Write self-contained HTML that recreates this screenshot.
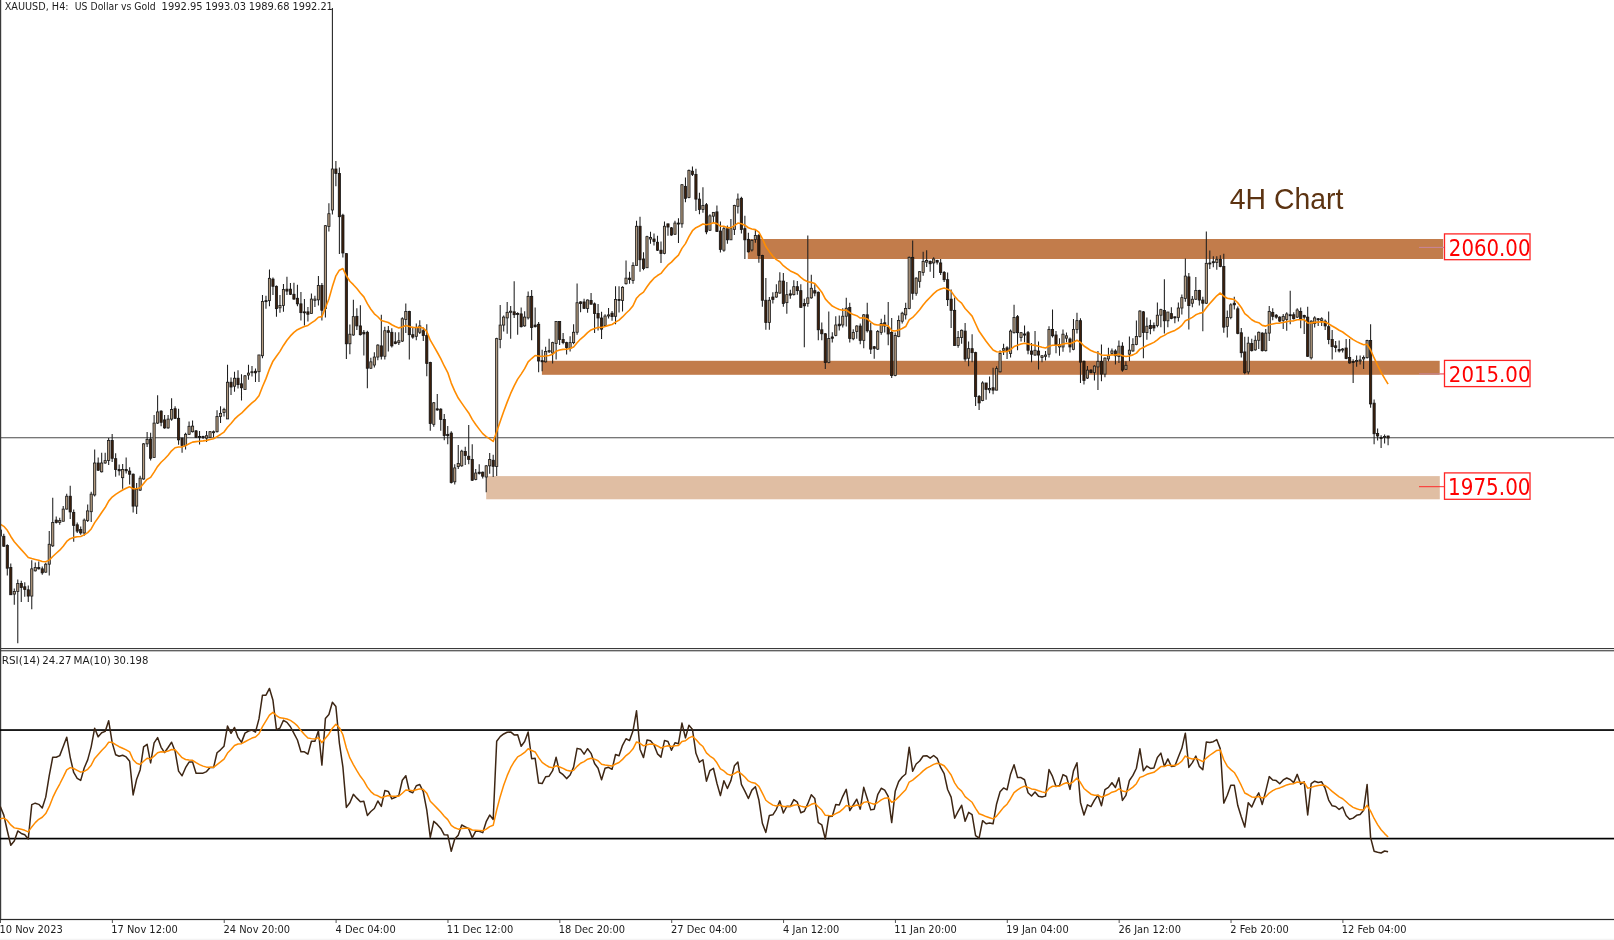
<!DOCTYPE html>
<html><head><meta charset="utf-8"><title>XAUUSD H4</title>
<style>html,body{margin:0;padding:0;background:#fff;}body{width:1614px;height:940px;overflow:hidden;position:relative;}</style>
</head><body>
<svg width="1614" height="940" viewBox="0 0 1614 940" style="position:absolute;left:0;top:0;will-change:transform">
<rect x="0" y="0" width="1614" height="940" fill="#ffffff"/>
<rect x="0" y="938.7" width="1614" height="1.3" fill="#f4f4f4"/>
<rect x="747.8" y="239" width="695.4" height="20" fill="#c27c4b"/>
<rect x="541.9" y="360.8" width="897.8" height="14" fill="#c27c4b"/>
<rect x="486.2" y="476.1" width="953.6" height="23.2" fill="#e0bea3"/>
<line x1="0" y1="437.7" x2="1614" y2="437.7" stroke="#4a4a4a" stroke-width="1.15"/>
<path d="M0.3 528V540M3.8 533.64V546.66M7.29 544.26V575.48M10.79 563.53V594.75M14.28 588.5V604.71M17.78 579.47V643.24M21.27 580.8V602.06M24.77 582.13V596.74M28.27 585.45V602.06M31.76 560.21V609.36M35.26 562.47V571.5M38.75 561.54V569.51M42.25 566.45V574.82M45.74 562.86V572.83M49.24 530.98V575.48M52.74 497.87V547.01M56.23 516.59V523.61M59.73 517.76V524.78M63.22 506.06V521.27M66.72 493.66V509.57M70.21 485.7V518.93M73.71 509.57V541.87M77.21 522.44V532.97M80.7 526.42V534.84M84.2 518.46V535.78M87.69 504.52V522.08M91.19 491.75V522.08M94.68 449.44V496.54M98.18 457.43V471M101.68 452.64V472.59M105.17 452.64V463.81M108.67 438V464.9M112.16 434.1V462.1M115.66 453.2V476.7M119.15 464.6V475.6M122.65 463.9V488.8M126.15 457.6V473.5M129.64 467.3V484.6M133.14 473.39V512.5M136.63 482.97V514.1M140.13 475.79V490.95M143.62 443.06V479.78M147.12 431.88V447.05M150.62 432.68V460.62M154.11 415.12V457.43M157.61 395.17V423.9M161.1 410.33V426.3M164.6 415.12V428.69M168.09 415.12V428.69M171.59 398.36V420.71M175.09 406.34V419.11M178.58 408.74V444.66M182.08 437.47V452.64M185.57 432.68V449.44M189.07 421.51V435.08M192.56 420.53V432.5M196.06 430.11V438.09M199.55 430.91V444.48M203.05 435.7V438.89M206.55 430.91V442.08M210.04 430.91V438.09M213.54 430.59V437.29M217.03 410.15V432.5M220.53 406.16V422.92M224.02 407.76V416.54M227.52 364.66V418.93M231.02 377.43V394.99M234.51 371.84V391.79M238.01 370.24V388.6M241.5 374.23V400.57M245 375.03V389.4M248.49 364.66V379.82M251.99 366.12V376.49M255.49 368.51V382.08M258.98 354.94V382.08M262.48 295.08V358.14M265.97 295.87V308.65M269.47 269.53V306.25M272.96 277.52V295.08M276.46 285.5V316.63M279.96 295.08V312.64M283.45 283.9V311.84M286.95 276.72V295.08M290.44 283.1V295.08M293.94 282.78V299.87M297.43 284.7V306.25M300.93 291.88V320.62M304.43 299.07V325.41M307.92 307.05V321.42M311.42 293.48V313.44M314.91 295.87V307.05M318.41 275.92V305.45M321.9 283.1V320.62M325.4 225V317.4M328.9 203.3V231.6M332.39 8V214.5M335.89 160.9V186.2M339.38 167.6V254M342.88 213.7V257.6M346.37 253.2V359M349.87 324.61V354.14M353.37 299.87V335.79M356.86 308.36V329.91M360.36 305.17V335.5M363.85 329.91V355.45M367.35 330.71V388.18M370.84 357.85V369.02M374.34 352.26V367.43M377.84 344.28V360.24M381.33 314.74V359.44M384.83 326.72V359.44M388.32 325.92V351.46M391.82 328.31V347.47M395.31 332.31V344.28M398.81 332.31V345.08M402.31 317.14V341.88M405.8 303.57V333.1M409.3 310.75V359.44M412.79 326.72V338.69M416.29 323.52V340.29M419.78 320.33V333.9M423.28 327.52V341.09M426.78 324.32V376.21M430.27 361.74V430.71M433.77 401.97V426.72M437.26 393.99V410.75M440.76 408.36V430.71M444.25 413.95V440.29M447.75 425.92V444.28M451.25 431.19V483.39M454.74 464.23V484.51M458.24 445.08V469.02M461.73 449.87V466.63M465.23 446.67V465.03M468.72 425.12V464.23M472.22 444.28V481M475.72 469.02V480.2M479.21 464.23V474.61M482.71 471.42V478.6M486.2 465.03V492.17M489.7 453.06V473.81M493.19 454.66V477.01M496.69 337.85V475.94M500.19 305.12V348.22M503.68 315.5V331.46M507.18 301.93V333.86M510.67 305.92V338.65M514.17 281.17V317.89M517.66 312.31V334.66M521.16 307.52V327.47M524.65 311.19V326.67M528.15 291.55V319.49M531.65 289.96V340.24M535.14 307.52V327.47M538.64 321.88V372.17M542.13 349.82V371.37M545.63 346.63V362.59M549.12 338.65V353.01M552.62 341.84V363.39M556.12 321.09V359.4M559.61 321.4V345.03M563.11 333.06V344.23M566.6 341.84V354.61M570.1 336.25V351.42M573.59 324.28V344.23M577.09 283.57V334.66M580.59 301.13V312.31M584.08 298.74V309.11M587.58 299.4V312.8M591.07 293.1V304.5M594.57 302.5V332.9M598.06 303.9V330.5M601.56 311.8V339.1M605.06 314.2V326M608.55 308V318.4M612.05 311.1V320.8M615.54 286.2V324.3M619.04 286.2V312.5M622.53 286.2V311.5M626.03 260.57V284.52M629.53 271.75V283.72M633.02 262.17V283.72M636.52 220.66V265.36M640.01 216.67V271.75M643.51 252.27V270.15M647 235.83V267.76M650.5 231.84V243.81M654 233.44V245.41M657.49 235.83V251M660.99 241.42V262.97M664.48 221.46V254.19M667.98 223.86V235.83M671.47 227.05V235.83M674.97 220.66V235.03M678.47 218.27V243.01M681.96 183.95V227.85M685.46 177.56V202.31M688.95 169.58V198.31M692.45 166.39V175.96M695.94 168.78V211.09M699.44 192.73V214.28M702.94 187.14V212.68M706.43 203.1V234.23M709.93 214.28V231.04M713.42 211.88V223.06M716.92 205.5V231.84M720.41 221.46V252.59M723.91 227.05V251.79M727.41 225.45V243.81M730.9 219.07V239.82M734.4 204.7V235.03M737.89 193.52V213.48M741.39 196.72V233.44M744.88 215.87V258.98M748.38 232.64V252.59M751.88 239.58V251.55M755.37 230V242.77M758.87 233.99V262.73M762.36 254.74V306.63M765.86 277.89V329.78M769.35 297.05V329.78M772.85 292.26V303.44M776.35 284.28V297.85M779.84 272.31V293.86M783.34 273.1V306.63M786.83 281.88V313.81M790.33 289.87V298.65M793.82 280.29V295.45M797.32 281.09V294.66M800.82 284.28V307.43M804.31 298.65V347.34M807.81 235.59V306.63M811.3 274.7V298.65M814.8 284.28V296.25M818.29 291.46V340.15M821.79 322.59V340.15M825.29 332.97V368.89M828.78 311.42V363.3M832.28 332.17V342.55M835.77 316.21V336.16M839.27 315.41V330.57M842.76 308.22V327.38M846.26 297.85V326.58M849.76 302.64V342.55M853.25 329.19V340.36M856.75 325.2V338.77M860.24 323.6V344.36M863.74 314.02V348.35M867.23 302.85V332.38M870.73 322.8V353.93M874.22 345.95V358.72M877.72 329.99V349.94M881.22 318.81V334.78M884.71 314.82V332.38M888.21 302.05V345.15M891.7 318.01V377.88M895.2 332.38V376.28M898.69 315.62V337.17M902.19 311.63V323.6M905.69 302.85V319.61M909.18 256.55V309.23M912.68 240.59V299.66M916.17 277.31V295.66M919.67 270.92V287.68M923.16 251.76V275.71M926.66 250.17V266.93M930.16 260.54V271.72M933.65 257.35V278.1M937.15 259.74V264.53M940.64 258.95V274.91M944.14 270.92V282.09M947.63 272.52V306.04M951.13 289.58V327.89M954.63 297.56V345.45M958.12 331.09V347.85M961.62 329.49V343.86M965.11 323.1V361.42M968.61 341.46V366.21M972.1 334.28V362.22M975.6 351.84V406.12M979.1 394.94V410.11M982.59 381.37V401.33M986.09 382.97V399.73M989.58 376.58V393.35M993.08 367.8V394.14M996.57 366.21V390.15M1000.07 350.24V372.59M1003.57 343.86V355.03M1007.06 346.25V359.02M1010.56 329.49V357.43M1014.05 304.74V333.48M1017.55 315.12V350.24M1021.04 331.88V341.46M1024.54 325.5V342.26M1028.04 331.09V354.23M1031.53 343.06V362.22M1035.03 331.09V355.83M1038.52 341.46V369.4M1042.02 355.03V362.22M1045.51 351.04V360.62M1049.01 326.3V357.43M1052.51 309.44V337.38M1056 331V353.35M1059.5 338.18V355.74M1062.99 329.4V351.75M1066.49 332.59V342.17M1069.98 337.38V352.55M1073.48 319.02V350.15M1076.98 312.64V333.39M1080.47 318.22V382.88M1083.97 360.53V384.48M1087.46 366.12V378.89M1090.96 369.31V373.3M1094.45 365.32V380.49M1097.95 350.95V390.06M1101.45 344.57V381.28M1104.94 357.34V377.29M1108.44 347.76V361.33M1111.93 348.56V354.94M1115.43 349.36V364.52M1118.92 340.57V362.92M1122.42 342.17V371.7M1125.92 361.33V370.11M1129.41 336.58V361.33M1132.91 338.18V351.75M1136.4 320.62V345.36M1139.9 310.24V337.38M1143.39 311.04V358.14M1146.89 317.43V339.78M1150.39 319.82V334.19M1153.88 322.38V331.16M1157.38 302.43V327.17M1160.87 308.81V327.17M1164.37 279.28V333.56M1167.86 312.01V327.17M1171.36 307.22V319.19M1174.86 316.79V323.18M1178.35 302.43V321.58M1181.85 294.44V314.4M1185.34 258.52V301.63M1188.84 272.89V329.57M1192.33 296.04V307.22M1195.83 276.88V300.03M1199.33 289.66V305.62M1202.82 296.84V331.16M1206.32 231.39V304.02M1209.81 250.54V268.9M1213.31 256.13V267.31M1216.8 256.13V269.7M1220.3 255.33V267.31M1223.79 253.74V332.76M1227.29 310.41V337.55M1230.79 303.22V319.19M1234.28 296.84V309.61M1237.78 306.42V334.36M1241.27 327.97V357.5M1244.77 336.75V374.27M1248.26 336.75V374.27M1251.76 338.69V351.46M1255.26 335.5V350.66M1258.75 331.51V349.07M1262.25 332.31V351.46M1265.74 329.11V351.46M1269.24 305.96V341.09M1272.73 308.36V320.33M1276.23 313.95V318.74M1279.73 316.34V321.93M1283.22 313.95V329.11M1286.72 312.35V330.71M1290.21 290.8V324.32M1293.71 312.35V319.53M1297.2 308.36V317.94M1300.7 307.56V328.31M1304.2 314.74V333.9M1307.69 306.76V357.05M1311.19 320.33V359.44M1314.68 316.34V327.52M1318.18 317.94V325.92M1321.67 317.14V325.92M1325.17 319.53V329.91M1328.67 311.55V344.28M1332.16 329.91V359.44M1335.66 341.09V352.26M1339.15 340.56V352.49M1342.65 348.01V352.49M1346.14 339.07V359.19M1349.64 339.07V363.67M1353.14 359.19V383.05M1356.63 355.47V366.65M1360.13 355.47V364.41M1363.62 355.47V368.88M1367.12 339.82V358.45M1370.61 324.16V407.64M1374.11 399.45V444.17M1377.61 428.52V440.44M1381.1 435.22V447.9M1384.6 434.48V443.42M1388.09 435.8V445.2" stroke="#1e1e1e" stroke-width="1.05" fill="none"/>
<g fill="#b39b80" stroke="#1a1a1a" stroke-width="0.8"><rect x="13.18" y="591.43" width="2.2" height="2.66"/><rect x="16.68" y="583.46" width="2.2" height="7.97"/><rect x="30.66" y="568.84" width="2.2" height="27.24"/><rect x="34.16" y="567.51" width="2.2" height="3.32"/><rect x="44.64" y="564.19" width="2.2" height="7.97"/><rect x="48.14" y="544.26" width="2.2" height="19.93"/><rect x="51.64" y="522.44" width="2.2" height="23.4"/><rect x="58.63" y="520.57" width="2.2" height="1.87"/><rect x="62.12" y="509.1" width="2.2" height="12.17"/><rect x="65.62" y="496.23" width="2.2" height="12.87"/><rect x="83.1" y="520.1" width="2.2" height="12.87"/><rect x="86.59" y="510.91" width="2.2" height="9.58"/><rect x="90.09" y="494.14" width="2.2" height="17.56"/><rect x="93.58" y="463.01" width="2.2" height="31.93"/><rect x="100.58" y="463.01" width="2.2" height="8.78"/><rect x="104.07" y="460.62" width="2.2" height="2.39"/><rect x="107.57" y="440.4" width="2.2" height="20"/><rect x="121.55" y="469.4" width="2.2" height="8.3"/><rect x="135.53" y="489.36" width="2.2" height="16.76"/><rect x="139.03" y="478.18" width="2.2" height="11.97"/><rect x="142.52" y="443.86" width="2.2" height="35.12"/><rect x="146.02" y="439.39" width="2.2" height="4.47"/><rect x="153.01" y="423.1" width="2.2" height="34.32"/><rect x="156.51" y="411.93" width="2.2" height="11.17"/><rect x="166.99" y="419.11" width="2.2" height="8.78"/><rect x="170.49" y="409.53" width="2.2" height="9.58"/><rect x="184.47" y="434.28" width="2.2" height="11.17"/><rect x="187.97" y="426.3" width="2.2" height="7.98"/><rect x="191.46" y="426.12" width="2.2" height="5.59"/><rect x="205.45" y="435.7" width="2.2" height="2.39"/><rect x="208.94" y="431.7" width="2.2" height="5.59"/><rect x="212.44" y="431.7" width="2.2" height="1"/><rect x="215.93" y="416.54" width="2.2" height="15.17"/><rect x="219.43" y="413.35" width="2.2" height="3.19"/><rect x="222.92" y="409.36" width="2.2" height="3.19"/><rect x="226.42" y="382.22" width="2.2" height="36.72"/><rect x="233.41" y="378.22" width="2.2" height="7.98"/><rect x="243.9" y="375.83" width="2.2" height="13.57"/><rect x="247.39" y="373.12" width="2.2" height="1.92"/><rect x="250.89" y="371.7" width="2.2" height="1"/><rect x="257.88" y="354.94" width="2.2" height="16.76"/><rect x="261.38" y="301.46" width="2.2" height="54.28"/><rect x="268.37" y="278.31" width="2.2" height="22.35"/><rect x="278.86" y="305.45" width="2.2" height="2.39"/><rect x="282.35" y="289.49" width="2.2" height="15.96"/><rect x="310.32" y="299.07" width="2.2" height="14.37"/><rect x="313.81" y="299.07" width="2.2" height="1.28"/><rect x="317.31" y="285.5" width="2.2" height="14.37"/><rect x="324.3" y="225.7" width="2.2" height="82.9"/><rect x="327.8" y="213.7" width="2.2" height="12.7"/><rect x="331.29" y="169" width="2.2" height="41"/><rect x="348.77" y="334.19" width="2.2" height="9.58"/><rect x="352.27" y="316.63" width="2.2" height="18.36"/><rect x="369.74" y="361.84" width="2.2" height="6.39"/><rect x="373.24" y="357.05" width="2.2" height="7.98"/><rect x="376.74" y="345.08" width="2.2" height="11.97"/><rect x="383.73" y="330.71" width="2.2" height="25.54"/><rect x="397.71" y="340.77" width="2.2" height="1.92"/><rect x="401.21" y="318.74" width="2.2" height="22.35"/><rect x="404.7" y="311.55" width="2.2" height="7.98"/><rect x="415.19" y="327.52" width="2.2" height="8.78"/><rect x="418.68" y="325.92" width="2.2" height="6.39"/><rect x="432.67" y="402.77" width="2.2" height="21.55"/><rect x="453.64" y="467.91" width="2.2" height="13.89"/><rect x="457.14" y="463.44" width="2.2" height="3.19"/><rect x="460.63" y="451.14" width="2.2" height="14.69"/><rect x="474.62" y="473.01" width="2.2" height="6.39"/><rect x="485.1" y="465.83" width="2.2" height="11.17"/><rect x="488.6" y="459.44" width="2.2" height="6.39"/><rect x="495.59" y="338.65" width="2.2" height="127.87"/><rect x="499.09" y="325.08" width="2.2" height="14.37"/><rect x="502.58" y="317.09" width="2.2" height="7.98"/><rect x="506.08" y="312.31" width="2.2" height="5.59"/><rect x="509.57" y="311.19" width="2.2" height="1.12"/><rect x="523.55" y="317.09" width="2.2" height="8.78"/><rect x="527.05" y="296.34" width="2.2" height="21.55"/><rect x="544.53" y="351.42" width="2.2" height="10.38"/><rect x="548.02" y="350.62" width="2.2" height="1.12"/><rect x="551.52" y="342.64" width="2.2" height="10.38"/><rect x="555.02" y="321.4" width="2.2" height="22.03"/><rect x="569" y="342.64" width="2.2" height="5.59"/><rect x="572.49" y="332.26" width="2.2" height="10.38"/><rect x="575.99" y="302.73" width="2.2" height="29.53"/><rect x="586.48" y="300" width="2.2" height="8.4"/><rect x="603.96" y="316" width="2.2" height="9.6"/><rect x="607.45" y="314.9" width="2.2" height="1.1"/><rect x="614.44" y="299.4" width="2.2" height="16.9"/><rect x="621.43" y="287.3" width="2.2" height="13.1"/><rect x="624.93" y="278.14" width="2.2" height="5.59"/><rect x="631.92" y="265.36" width="2.2" height="15.17"/><rect x="635.42" y="226.25" width="2.2" height="39.11"/><rect x="645.9" y="236.63" width="2.2" height="31.13"/><rect x="649.4" y="237.43" width="2.2" height="1.6"/><rect x="663.38" y="226.25" width="2.2" height="27.14"/><rect x="673.87" y="223.06" width="2.2" height="11.17"/><rect x="680.86" y="184.74" width="2.2" height="39.11"/><rect x="687.85" y="170.38" width="2.2" height="27.14"/><rect x="701.84" y="205.5" width="2.2" height="3.99"/><rect x="708.83" y="215.87" width="2.2" height="14.37"/><rect x="712.32" y="212.36" width="2.2" height="3.83"/><rect x="722.81" y="228.65" width="2.2" height="21.55"/><rect x="729.8" y="228.65" width="2.2" height="11.17"/><rect x="733.3" y="205.5" width="2.2" height="23.95"/><rect x="736.79" y="199.11" width="2.2" height="7.18"/><rect x="750.78" y="240.38" width="2.2" height="9.58"/><rect x="754.27" y="235.59" width="2.2" height="3.99"/><rect x="768.25" y="300.24" width="2.2" height="22.35"/><rect x="775.25" y="292.26" width="2.2" height="4.79"/><rect x="778.74" y="281.09" width="2.2" height="11.97"/><rect x="785.73" y="294.66" width="2.2" height="7.98"/><rect x="792.72" y="286.67" width="2.2" height="7.98"/><rect x="806.71" y="297.85" width="2.2" height="5.59"/><rect x="810.2" y="288.27" width="2.2" height="9.58"/><rect x="827.68" y="338.56" width="2.2" height="23.95"/><rect x="834.67" y="324.99" width="2.2" height="10.38"/><rect x="841.66" y="316.21" width="2.2" height="8.78"/><rect x="845.16" y="308.22" width="2.2" height="7.98"/><rect x="852.15" y="332.38" width="2.2" height="6.39"/><rect x="855.65" y="326" width="2.2" height="5.59"/><rect x="862.64" y="314.82" width="2.2" height="25.54"/><rect x="876.62" y="331.58" width="2.2" height="17.56"/><rect x="880.12" y="323.6" width="2.2" height="8.78"/><rect x="894.1" y="335.57" width="2.2" height="39.91"/><rect x="897.59" y="320.41" width="2.2" height="15.96"/><rect x="901.09" y="313.22" width="2.2" height="7.98"/><rect x="904.59" y="308.44" width="2.2" height="6.39"/><rect x="908.08" y="257.35" width="2.2" height="51.09"/><rect x="915.07" y="278.1" width="2.2" height="15.17"/><rect x="918.57" y="271.72" width="2.2" height="9.58"/><rect x="922.06" y="261.34" width="2.2" height="11.17"/><rect x="925.56" y="260.54" width="2.2" height="1.6"/><rect x="932.55" y="258.95" width="2.2" height="3.99"/><rect x="957.02" y="337.47" width="2.2" height="7.98"/><rect x="960.52" y="330.29" width="2.2" height="7.18"/><rect x="967.51" y="348.65" width="2.2" height="9.58"/><rect x="981.49" y="382.97" width="2.2" height="17.56"/><rect x="988.48" y="388.56" width="2.2" height="1.28"/><rect x="995.47" y="368.6" width="2.2" height="21.55"/><rect x="998.97" y="353.44" width="2.2" height="18.36"/><rect x="1002.47" y="348.65" width="2.2" height="1.6"/><rect x="1009.46" y="331.09" width="2.2" height="22.35"/><rect x="1012.95" y="317.52" width="2.2" height="15.17"/><rect x="1019.94" y="332.68" width="2.2" height="4.79"/><rect x="1033.93" y="350.24" width="2.2" height="4.79"/><rect x="1040.92" y="355.83" width="2.2" height="1.6"/><rect x="1044.41" y="355.03" width="2.2" height="1.28"/><rect x="1047.91" y="329.49" width="2.2" height="24.74"/><rect x="1058.4" y="344.57" width="2.2" height="2.39"/><rect x="1061.89" y="334.19" width="2.2" height="12.77"/><rect x="1065.39" y="335.79" width="2.2" height="2.39"/><rect x="1072.38" y="329.4" width="2.2" height="19.96"/><rect x="1075.88" y="320.62" width="2.2" height="8.78"/><rect x="1086.36" y="370.11" width="2.2" height="7.98"/><rect x="1093.35" y="366.12" width="2.2" height="6.39"/><rect x="1096.85" y="361.33" width="2.2" height="5.59"/><rect x="1103.84" y="358.14" width="2.2" height="15.96"/><rect x="1107.34" y="355.74" width="2.2" height="3.19"/><rect x="1110.83" y="350.95" width="2.2" height="2.39"/><rect x="1117.82" y="346.16" width="2.2" height="10.38"/><rect x="1124.82" y="365.32" width="2.2" height="3.99"/><rect x="1128.31" y="350.15" width="2.2" height="3.99"/><rect x="1131.81" y="344.57" width="2.2" height="6.39"/><rect x="1135.3" y="336.58" width="2.2" height="7.98"/><rect x="1138.8" y="311.04" width="2.2" height="25.54"/><rect x="1145.79" y="326.21" width="2.2" height="6.39"/><rect x="1156.28" y="315.2" width="2.2" height="10.38"/><rect x="1159.77" y="309.61" width="2.2" height="5.59"/><rect x="1166.76" y="312.01" width="2.2" height="8.78"/><rect x="1177.25" y="308.01" width="2.2" height="9.58"/><rect x="1180.75" y="297.64" width="2.2" height="10.38"/><rect x="1184.24" y="276.09" width="2.2" height="22.35"/><rect x="1191.23" y="299.23" width="2.2" height="3.99"/><rect x="1194.73" y="290.45" width="2.2" height="8.78"/><rect x="1205.22" y="263.31" width="2.2" height="39.91"/><rect x="1215.7" y="259.32" width="2.2" height="3.19"/><rect x="1226.19" y="317.59" width="2.2" height="8.78"/><rect x="1229.69" y="304.82" width="2.2" height="12.77"/><rect x="1247.16" y="343.14" width="2.2" height="28.74"/><rect x="1254.16" y="340.29" width="2.2" height="9.58"/><rect x="1257.65" y="332.31" width="2.2" height="7.98"/><rect x="1264.64" y="333.1" width="2.2" height="17.56"/><rect x="1268.14" y="311.55" width="2.2" height="21.55"/><rect x="1282.12" y="316.34" width="2.2" height="3.99"/><rect x="1285.62" y="313.95" width="2.2" height="5.59"/><rect x="1296.1" y="309.96" width="2.2" height="7.18"/><rect x="1310.09" y="321.13" width="2.2" height="36.72"/><rect x="1313.58" y="317.94" width="2.2" height="5.59"/><rect x="1320.57" y="318.74" width="2.2" height="1.6"/><rect x="1341.55" y="349.06" width="2.2" height="1"/><rect x="1355.53" y="360.39" width="2.2" height="1.04"/><rect x="1359.03" y="359.94" width="2.2" height="1.04"/><rect x="1362.52" y="357.41" width="2.2" height="1.49"/><rect x="1366.02" y="340.56" width="2.2" height="17.14"/><rect x="1383.5" y="436.42" width="2.2" height="1"/></g>
<g fill="#3d200c" stroke="#141414" stroke-width="0.8"><rect x="-0.8" y="530" width="2.2" height="6"/><rect x="2.7" y="536.29" width="2.2" height="9.96"/><rect x="6.19" y="545.59" width="2.2" height="22.59"/><rect x="9.69" y="567.51" width="2.2" height="27.24"/><rect x="20.17" y="583.46" width="2.2" height="3.99"/><rect x="23.67" y="586.78" width="2.2" height="2.66"/><rect x="27.17" y="589.83" width="2.2" height="6.24"/><rect x="37.65" y="567.51" width="2.2" height="1.33"/><rect x="41.15" y="568.84" width="2.2" height="3.99"/><rect x="55.13" y="520.1" width="2.2" height="2.34"/><rect x="69.11" y="496.23" width="2.2" height="15.68"/><rect x="72.61" y="512.38" width="2.2" height="13.11"/><rect x="76.11" y="524.78" width="2.2" height="6.32"/><rect x="79.6" y="529.46" width="2.2" height="3.51"/><rect x="97.08" y="463.01" width="2.2" height="7.18"/><rect x="111.06" y="440.4" width="2.2" height="17.9"/><rect x="114.56" y="458.7" width="2.2" height="10.7"/><rect x="118.05" y="469.4" width="2.2" height="1.4"/><rect x="125.05" y="469.4" width="2.2" height="1.4"/><rect x="128.54" y="471.1" width="2.2" height="3.1"/><rect x="132.04" y="474.19" width="2.2" height="31.93"/><rect x="149.52" y="439.07" width="2.2" height="19.16"/><rect x="160" y="411.13" width="2.2" height="11.17"/><rect x="163.5" y="419.91" width="2.2" height="7.98"/><rect x="173.99" y="408.74" width="2.2" height="9.58"/><rect x="177.48" y="418.31" width="2.2" height="21.55"/><rect x="180.98" y="438.27" width="2.2" height="7.18"/><rect x="194.96" y="430.91" width="2.2" height="6.39"/><rect x="198.45" y="436.49" width="2.2" height="1"/><rect x="201.95" y="436.49" width="2.2" height="1"/><rect x="229.92" y="382.22" width="2.2" height="4.79"/><rect x="236.91" y="378.22" width="2.2" height="6.39"/><rect x="240.4" y="383.81" width="2.2" height="3.99"/><rect x="254.39" y="371.23" width="2.2" height="1.6"/><rect x="264.87" y="300.66" width="2.2" height="1"/><rect x="271.86" y="279.11" width="2.2" height="7.18"/><rect x="275.36" y="286.3" width="2.2" height="22.35"/><rect x="285.85" y="289.17" width="2.2" height="1.92"/><rect x="289.34" y="289.17" width="2.2" height="5.11"/><rect x="292.84" y="294.28" width="2.2" height="4.79"/><rect x="296.33" y="298.27" width="2.2" height="5.59"/><rect x="299.83" y="303.86" width="2.2" height="8.78"/><rect x="303.33" y="311.84" width="2.2" height="1"/><rect x="306.82" y="311.84" width="2.2" height="2.39"/><rect x="320.8" y="285.5" width="2.2" height="24.74"/><rect x="334.79" y="169" width="2.2" height="4.5"/><rect x="338.28" y="173.5" width="2.2" height="43.2"/><rect x="341.78" y="215.2" width="2.2" height="37.8"/><rect x="345.27" y="253.6" width="2.2" height="90.2"/><rect x="355.76" y="316.34" width="2.2" height="9.58"/><rect x="359.26" y="325.92" width="2.2" height="8.78"/><rect x="362.75" y="332.31" width="2.2" height="1.6"/><rect x="366.25" y="332.31" width="2.2" height="35.92"/><rect x="380.23" y="345.87" width="2.2" height="10.38"/><rect x="387.22" y="330.71" width="2.2" height="1.6"/><rect x="390.72" y="332.31" width="2.2" height="13.57"/><rect x="394.21" y="341.88" width="2.2" height="1.6"/><rect x="408.2" y="311.55" width="2.2" height="23.15"/><rect x="411.69" y="334.7" width="2.2" height="2.39"/><rect x="422.18" y="330.71" width="2.2" height="4.79"/><rect x="425.68" y="335.5" width="2.2" height="27.94"/><rect x="429.17" y="362.54" width="2.2" height="60.98"/><rect x="436.16" y="408.84" width="2.2" height="1.12"/><rect x="439.66" y="409.16" width="2.2" height="10.38"/><rect x="443.15" y="419.53" width="2.2" height="15.96"/><rect x="446.65" y="434.38" width="2.2" height="1.28"/><rect x="450.15" y="433.1" width="2.2" height="49.49"/><rect x="464.13" y="451.46" width="2.2" height="3.99"/><rect x="467.62" y="456.25" width="2.2" height="3.19"/><rect x="471.12" y="459.44" width="2.2" height="20.75"/><rect x="478.11" y="472.22" width="2.2" height="1.12"/><rect x="481.61" y="472.22" width="2.2" height="3.99"/><rect x="492.09" y="460.24" width="2.2" height="6.07"/><rect x="513.07" y="311.83" width="2.2" height="2.87"/><rect x="516.56" y="313.42" width="2.2" height="1"/><rect x="520.06" y="313.9" width="2.2" height="12.77"/><rect x="530.55" y="296.34" width="2.2" height="31.13"/><rect x="534.04" y="325.08" width="2.2" height="1.6"/><rect x="537.54" y="324.28" width="2.2" height="36.72"/><rect x="541.03" y="360.68" width="2.2" height="1.12"/><rect x="558.51" y="321.4" width="2.2" height="18.04"/><rect x="562.01" y="339.44" width="2.2" height="3.19"/><rect x="565.5" y="342.64" width="2.2" height="4.79"/><rect x="579.49" y="301.93" width="2.2" height="1.6"/><rect x="582.98" y="301.93" width="2.2" height="6.39"/><rect x="589.97" y="300.4" width="2.2" height="3.8"/><rect x="593.47" y="303.9" width="2.2" height="9.6"/><rect x="596.96" y="313.5" width="2.2" height="4.5"/><rect x="600.46" y="318" width="2.2" height="11.1"/><rect x="610.95" y="313.2" width="2.2" height="3.4"/><rect x="617.94" y="299.4" width="2.2" height="1"/><rect x="628.43" y="278.14" width="2.2" height="1.28"/><rect x="638.91" y="226.25" width="2.2" height="33.52"/><rect x="642.41" y="258.98" width="2.2" height="9.58"/><rect x="652.9" y="239.02" width="2.2" height="2.39"/><rect x="656.39" y="242.22" width="2.2" height="7.98"/><rect x="659.89" y="250.2" width="2.2" height="3.19"/><rect x="666.88" y="223.86" width="2.2" height="3.19"/><rect x="670.37" y="227.85" width="2.2" height="7.18"/><rect x="677.37" y="223.06" width="2.2" height="1"/><rect x="684.36" y="186.34" width="2.2" height="11.97"/><rect x="691.35" y="171.17" width="2.2" height="3.19"/><rect x="694.84" y="174.37" width="2.2" height="24.74"/><rect x="698.34" y="199.11" width="2.2" height="10.38"/><rect x="705.33" y="204.7" width="2.2" height="27.14"/><rect x="715.82" y="211.88" width="2.2" height="19.64"/><rect x="719.31" y="231.04" width="2.2" height="18.36"/><rect x="726.31" y="228.65" width="2.2" height="11.17"/><rect x="740.29" y="198.31" width="2.2" height="31.13"/><rect x="743.78" y="228.65" width="2.2" height="11.17"/><rect x="747.28" y="239.34" width="2.2" height="12.45"/><rect x="757.77" y="235.59" width="2.2" height="19.96"/><rect x="761.26" y="255.54" width="2.2" height="44.7"/><rect x="764.76" y="300.24" width="2.2" height="22.35"/><rect x="771.75" y="297.05" width="2.2" height="2.39"/><rect x="782.24" y="281.09" width="2.2" height="22.35"/><rect x="789.23" y="293.86" width="2.2" height="1.28"/><rect x="796.22" y="286.67" width="2.2" height="3.99"/><rect x="799.72" y="290.66" width="2.2" height="16.76"/><rect x="803.21" y="303.44" width="2.2" height="2.39"/><rect x="813.7" y="290.66" width="2.2" height="2.39"/><rect x="817.19" y="292.26" width="2.2" height="37.52"/><rect x="820.69" y="329.78" width="2.2" height="3.99"/><rect x="824.19" y="333.77" width="2.2" height="28.74"/><rect x="831.18" y="336.96" width="2.2" height="1.28"/><rect x="838.17" y="324.19" width="2.2" height="1.6"/><rect x="848.66" y="307.43" width="2.2" height="31.13"/><rect x="859.14" y="326" width="2.2" height="14.37"/><rect x="866.13" y="314.82" width="2.2" height="15.96"/><rect x="869.63" y="330.79" width="2.2" height="18.36"/><rect x="873.12" y="346.75" width="2.2" height="1.6"/><rect x="883.61" y="322.8" width="2.2" height="3.19"/><rect x="887.11" y="327.59" width="2.2" height="6.39"/><rect x="890.6" y="332.38" width="2.2" height="43.1"/><rect x="911.58" y="257.35" width="2.2" height="35.92"/><rect x="929.06" y="261.34" width="2.2" height="2.39"/><rect x="936.05" y="260.54" width="2.2" height="1.6"/><rect x="939.54" y="262.94" width="2.2" height="9.58"/><rect x="943.04" y="272.52" width="2.2" height="7.18"/><rect x="946.53" y="279.7" width="2.2" height="19.96"/><rect x="950.03" y="299.16" width="2.2" height="11.17"/><rect x="953.53" y="310.33" width="2.2" height="35.12"/><rect x="964.01" y="331.09" width="2.2" height="27.94"/><rect x="971" y="348.65" width="2.2" height="3.99"/><rect x="974.5" y="352.64" width="2.2" height="43.9"/><rect x="978" y="396.54" width="2.2" height="6.39"/><rect x="984.99" y="382.97" width="2.2" height="6.39"/><rect x="991.98" y="387.76" width="2.2" height="2.39"/><rect x="1005.96" y="347.85" width="2.2" height="3.19"/><rect x="1016.45" y="316.72" width="2.2" height="15.96"/><rect x="1023.44" y="333.96" width="2.2" height="1.12"/><rect x="1026.94" y="332.68" width="2.2" height="17.56"/><rect x="1030.43" y="351.04" width="2.2" height="3.19"/><rect x="1037.42" y="351.04" width="2.2" height="3.99"/><rect x="1051.41" y="329.4" width="2.2" height="6.39"/><rect x="1054.9" y="334.99" width="2.2" height="10.38"/><rect x="1068.88" y="338.98" width="2.2" height="7.98"/><rect x="1079.37" y="320.62" width="2.2" height="41.51"/><rect x="1082.87" y="361.33" width="2.2" height="19.16"/><rect x="1089.86" y="370.11" width="2.2" height="2.39"/><rect x="1100.35" y="361.33" width="2.2" height="12.77"/><rect x="1114.33" y="350.95" width="2.2" height="4.79"/><rect x="1121.32" y="346.16" width="2.2" height="23.95"/><rect x="1142.29" y="311.84" width="2.2" height="20.75"/><rect x="1149.29" y="325.41" width="2.2" height="3.19"/><rect x="1152.78" y="325.57" width="2.2" height="2.39"/><rect x="1163.27" y="310.41" width="2.2" height="10.38"/><rect x="1170.26" y="313.6" width="2.2" height="4.79"/><rect x="1173.76" y="316.79" width="2.2" height="1.12"/><rect x="1187.74" y="276.88" width="2.2" height="28.74"/><rect x="1198.23" y="290.45" width="2.2" height="9.58"/><rect x="1201.72" y="300.03" width="2.2" height="3.19"/><rect x="1208.71" y="262.99" width="2.2" height="1"/><rect x="1212.21" y="261.72" width="2.2" height="1"/><rect x="1219.2" y="259.32" width="2.2" height="7.18"/><rect x="1222.69" y="266.51" width="2.2" height="60.66"/><rect x="1233.18" y="303.22" width="2.2" height="1.6"/><rect x="1236.68" y="308.81" width="2.2" height="24.74"/><rect x="1240.17" y="332.76" width="2.2" height="19.96"/><rect x="1243.67" y="351.92" width="2.2" height="20.75"/><rect x="1250.66" y="343.48" width="2.2" height="7.18"/><rect x="1261.15" y="333.1" width="2.2" height="17.56"/><rect x="1271.63" y="312.35" width="2.2" height="3.99"/><rect x="1275.13" y="315.22" width="2.2" height="1.92"/><rect x="1278.63" y="317.14" width="2.2" height="3.99"/><rect x="1289.11" y="314.74" width="2.2" height="1"/><rect x="1292.61" y="314.74" width="2.2" height="3.99"/><rect x="1299.6" y="311.55" width="2.2" height="7.98"/><rect x="1303.1" y="315.54" width="2.2" height="1.6"/><rect x="1306.59" y="317.14" width="2.2" height="39.11"/><rect x="1317.08" y="318.74" width="2.2" height="1"/><rect x="1324.07" y="321.13" width="2.2" height="4.79"/><rect x="1327.57" y="326.72" width="2.2" height="12.77"/><rect x="1331.06" y="339.49" width="2.2" height="7.18"/><rect x="1334.56" y="345.87" width="2.2" height="1.6"/><rect x="1338.05" y="349.51" width="2.2" height="1.49"/><rect x="1345.04" y="348.01" width="2.2" height="10.44"/><rect x="1348.54" y="357.41" width="2.2" height="5.52"/><rect x="1352.04" y="361.43" width="2.2" height="1"/><rect x="1369.51" y="340.56" width="2.2" height="63.36"/><rect x="1373.01" y="403.17" width="2.2" height="30.56"/><rect x="1376.51" y="433.43" width="2.2" height="2.53"/><rect x="1380" y="437.46" width="2.2" height="1"/><rect x="1386.99" y="436" width="2.2" height="2"/></g>
<polyline points="0.3,524.24 3.8,526.34 7.29,530.32 10.79,536.46 14.28,541.69 17.78,545.67 21.27,549.65 24.77,553.44 28.27,557.5 31.76,558.58 35.26,559.43 38.75,560.33 42.25,561.52 45.74,561.77 49.24,560.1 52.74,556.52 56.23,553.27 59.73,550.16 63.22,546.25 66.72,541.48 70.21,538.67 73.71,537.41 77.21,536.81 80.7,536.44 84.2,534.89 87.69,532.6 91.19,528.94 94.68,522.66 98.18,517.67 101.68,512.46 105.17,507.52 108.67,501.13 112.16,497.05 115.66,494.42 119.15,492.17 122.65,490 126.15,488.17 129.64,486.84 133.14,488.68 136.63,488.74 140.13,487.74 143.62,483.56 147.12,479.35 150.62,477.34 154.11,472.17 157.61,466.44 161.1,462.23 164.6,458.96 168.09,455.17 171.59,450.82 175.09,447.73 178.58,446.98 182.08,446.83 185.57,445.64 189.07,443.79 192.56,442.11 196.06,441.65 199.55,441.24 203.05,440.86 206.55,440.37 210.04,439.54 213.54,438.8 217.03,436.68 220.53,434.46 224.02,432.06 227.52,427.32 231.02,423.48 234.51,419.17 238.01,415.88 241.5,413.2 245,409.64 248.49,406.17 251.99,402.88 255.49,400.02 258.98,395.73 262.48,386.75 265.97,378.63 269.47,369.07 272.96,361.19 276.46,356.19 279.96,351.35 283.45,345.46 286.95,340.28 290.44,335.9 293.94,332.39 297.43,329.68 300.93,328.05 304.43,326.59 307.92,325.41 311.42,322.9 314.91,320.63 318.41,317.28 321.9,316.61 325.4,307.96 328.9,298.98 332.39,286.6 335.89,275.83 339.38,270.2 342.88,268.56 346.37,275.73 349.87,281.29 353.37,284.66 356.86,288.59 360.36,292.98 363.85,296.88 367.35,303.67 370.84,309.21 374.34,313.77 377.84,316.75 381.33,320.51 384.83,321.48 388.32,322.51 391.82,324.74 395.31,326.52 398.81,327.88 402.31,327.01 405.8,325.54 409.3,326.41 412.79,327.43 416.29,327.44 419.78,327.29 423.28,328.07 426.78,331.44 430.27,340.21 433.77,346.17 437.26,352.24 440.76,358.65 444.25,365.97 447.75,372.61 451.25,383.08 454.74,391.16 458.24,398.04 461.73,403.1 465.23,408.09 468.72,412.98 472.22,419.38 475.72,424.49 479.21,429.14 482.71,433.62 486.2,436.69 489.7,438.86 493.19,441.47 496.69,431.68 500.19,421.53 503.68,411.58 507.18,402.13 510.67,393.46 514.17,385.96 517.66,379.12 521.16,374.12 524.65,368.69 528.15,361.8 531.65,358.53 535.14,355.5 538.64,356.02 542.13,356.57 545.63,356.08 549.12,355.56 552.62,354.33 556.12,351.19 559.61,350.07 563.11,349.37 566.6,349.18 570.1,348.56 573.59,347.01 577.09,342.79 580.59,339.05 584.08,336.12 587.58,332.68 591.07,329.97 594.57,328.4 598.06,327.41 601.56,327.57 605.06,326.47 608.55,325.37 612.05,324.53 615.54,322.14 619.04,320.07 622.53,316.95 626.03,313.25 629.53,310.03 633.02,305.77 636.52,298.2 640.01,294.54 643.51,292.07 647,286.79 650.5,282.09 654,278.21 657.49,275.54 660.99,273.43 664.48,268.94 667.98,264.95 671.47,262.1 674.97,258.38 678.47,255.1 681.96,248.4 685.46,243.63 688.95,236.65 692.45,230.72 695.94,227.71 699.44,225.97 702.94,224.02 706.43,224.77 709.93,223.92 713.42,222.82 716.92,223.65 720.41,226.1 723.91,226.34 727.41,227.63 730.9,227.72 734.4,225.61 737.89,223.08 741.39,223.69 744.88,225.23 748.38,227.76 751.88,228.96 755.37,229.59 758.87,232.06 762.36,238.55 765.86,246.56 769.35,251.67 772.85,256.22 776.35,259.65 779.84,261.69 783.34,265.67 786.83,268.43 790.33,270.97 793.82,272.47 797.32,274.2 800.82,277.37 804.31,280.08 807.81,281.77 811.3,282.39 814.8,283.4 818.29,287.82 821.79,292.2 825.29,298.89 828.78,302.67 832.28,306.06 835.77,307.86 839.27,309.57 842.76,310.2 846.26,310.01 849.76,312.73 853.25,314.6 856.75,315.69 860.24,318.04 863.74,317.73 867.23,318.97 870.73,321.85 874.22,324.37 877.72,325.06 881.22,324.92 884.71,325.02 888.21,325.87 891.7,330.6 895.2,331.07 898.69,330.06 902.19,328.45 905.69,326.55 909.18,319.96 912.68,317.42 916.17,313.67 919.67,309.68 923.16,305.07 926.66,300.83 930.16,297.3 933.65,293.65 937.15,290.65 940.64,288.92 944.14,288.04 947.63,289.15 951.13,291.16 954.63,296.34 958.12,300.25 961.62,303.11 965.11,308.44 968.61,312.27 972.1,316.11 975.6,323.77 979.1,331.31 982.59,336.23 986.09,341.29 989.58,345.79 993.08,350.02 996.57,351.79 1000.07,351.94 1003.57,351.63 1007.06,351.57 1010.56,349.62 1014.05,346.56 1017.55,345.24 1021.04,344.05 1024.54,343.19 1028.04,343.86 1031.53,344.85 1035.03,345.36 1038.52,346.29 1042.02,347.19 1045.51,347.94 1049.01,346.18 1052.51,345.19 1056,345.21 1059.5,345.15 1062.99,344.1 1066.49,343.31 1069.98,343.66 1073.48,342.3 1076.98,340.24 1080.47,342.32 1083.97,345.96 1087.46,348.26 1090.96,350.57 1094.45,352.05 1097.95,352.93 1101.45,354.95 1104.94,355.25 1108.44,355.3 1111.93,354.88 1115.43,354.96 1118.92,354.13 1122.42,355.65 1125.92,356.57 1129.41,355.96 1132.91,354.87 1136.4,353.13 1139.9,349.12 1143.39,347.55 1146.89,345.52 1150.39,343.91 1153.88,342.39 1157.38,339.8 1160.87,336.92 1164.37,335.39 1167.86,333.16 1171.36,331.75 1174.86,330.43 1178.35,328.3 1181.85,325.38 1185.34,320.68 1188.84,319.25 1192.33,317.34 1195.83,314.78 1199.33,313.38 1202.82,312.41 1206.32,307.73 1209.81,303.53 1213.31,299.63 1216.8,295.79 1220.3,293 1223.79,296.26 1227.29,298.29 1230.79,298.91 1234.28,299.47 1237.78,302.72 1241.27,307.48 1244.77,313.69 1248.26,316.49 1251.76,319.75 1255.26,321.7 1258.75,322.71 1262.25,325.38 1265.74,326.11 1269.24,324.72 1272.73,323.93 1276.23,323.28 1279.73,323.08 1283.22,322.43 1286.72,321.63 1290.21,321.05 1293.71,320.83 1297.2,319.79 1300.7,319.77 1304.2,319.52 1307.69,323.01 1311.19,322.84 1314.68,322.37 1318.18,322.1 1321.67,321.78 1325.17,322.17 1328.67,323.82 1332.16,326 1335.66,328.04 1339.15,330.23 1342.65,332.02 1346.14,334.54 1349.64,337.24 1353.14,339.62 1356.63,341.6 1360.13,343.34 1363.62,344.68 1367.12,344.29 1370.61,349.97 1374.11,357.95 1377.61,365.38 1381.1,372.28 1384.6,378.39 1388.09,384.07" fill="none" stroke="#ff8c00" stroke-width="1.6" stroke-linejoin="round"/>
<line x1="1419" y1="247.4" x2="1444" y2="247.4" stroke="#c8869c" stroke-width="1"/>
<rect x="1444.5" y="233.9" width="85.5" height="25.8" fill="#ffffff" stroke="#ff2424" stroke-width="1.3"/>
<line x1="1419" y1="373.9" x2="1444" y2="373.9" stroke="#c8869c" stroke-width="1"/>
<line x1="1439.8" y1="373.9" x2="1444" y2="373.9" stroke="#ff6f6f" stroke-width="1"/>
<rect x="1444.5" y="360.40000000000003" width="85.5" height="26.2" fill="#ffffff" stroke="#ff2424" stroke-width="1.3"/>
<line x1="1419" y1="486.7" x2="1444" y2="486.7" stroke="#ff2a2a" stroke-width="1"/>
<rect x="1444.5" y="472.90000000000003" width="85.5" height="26.4" fill="#ffffff" stroke="#ff2424" stroke-width="1.3"/>
<rect x="0" y="0" width="1.2" height="919" fill="#3a3a3a"/>
<rect x="0" y="648" width="1614" height="1.1" fill="#3a3a3a"/>
<rect x="0" y="650.2" width="1614" height="1.1" fill="#3a3a3a"/>
<rect x="0" y="918.9" width="1614" height="1.2" fill="#2a2a2a"/>
<rect x="0" y="920" width="1" height="3" fill="#555"/>
<rect x="111.87" y="920" width="1" height="3" fill="#555"/>
<rect x="223.73" y="920" width="1" height="3" fill="#555"/>
<rect x="335.6" y="920" width="1" height="3" fill="#555"/>
<rect x="447.46" y="920" width="1" height="3" fill="#555"/>
<rect x="559.33" y="920" width="1" height="3" fill="#555"/>
<rect x="671.2" y="920" width="1" height="3" fill="#555"/>
<rect x="783.06" y="920" width="1" height="3" fill="#555"/>
<rect x="894.93" y="920" width="1" height="3" fill="#555"/>
<rect x="1006.79" y="920" width="1" height="3" fill="#555"/>
<rect x="1118.66" y="920" width="1" height="3" fill="#555"/>
<rect x="1230.53" y="920" width="1" height="3" fill="#555"/>
<rect x="1342.39" y="920" width="1" height="3" fill="#555"/>
<rect x="0" y="729.2" width="1614" height="1.7" fill="#000"/>
<rect x="0" y="837.75" width="1614" height="1.7" fill="#000"/>
<polyline points="0.3,806.46 3.8,815.11 7.29,830.76 10.79,845.3 14.28,841.08 17.78,830.97 21.27,833.42 24.77,834.69 28.27,838.93 31.76,804.65 35.26,803.18 38.75,804.35 42.25,807.97 45.74,797.14 49.24,775.68 52.74,757.19 56.23,757.19 59.73,755.64 63.22,746.44 66.72,737.23 70.21,757.36 73.71,772.49 77.21,778.37 80.7,780.37 84.2,767.94 87.69,759.86 91.19,746.83 94.68,728.2 98.18,736.85 101.68,732.77 105.17,731.4 108.67,720.71 112.16,742.61 115.66,754.74 119.15,756.26 122.65,755.21 126.15,756.93 129.64,761.27 133.14,794.92 136.63,779.28 140.13,769.97 143.62,746.83 147.12,744.28 150.62,762.88 154.11,742.89 157.61,737.56 161.1,747.34 164.6,752.55 168.09,747.51 171.59,742.19 175.09,751.18 178.58,771.08 182.08,775.83 185.57,767.67 189.07,762.08 192.56,761.95 196.06,773.16 199.55,773.16 203.05,773.16 206.55,771.61 210.04,767.61 213.54,767.61 217.03,752.71 220.53,749.84 224.02,746.21 227.52,725.95 231.02,733.33 234.51,727.43 238.01,737.42 241.5,742.38 245,733.13 248.49,731.15 251.99,730.07 255.49,732.16 258.98,718.9 262.48,695.17 265.97,695.17 269.47,688.44 272.96,700.3 276.46,729.69 279.96,728.06 283.45,720.3 286.95,722.39 290.44,726.73 293.94,733.36 297.43,740.01 300.93,751.83 304.43,751.83 307.92,754.13 311.42,741.22 314.91,741.22 318.41,730.79 321.9,765.12 325.4,718.58 328.9,714.56 332.39,702.22 335.89,706.57 339.38,743.07 342.88,766.78 346.37,807.41 349.87,802.75 353.37,794.35 356.86,798.14 360.36,801.77 363.85,801.32 367.35,815.4 370.84,811.53 374.34,808.54 377.84,800.99 381.33,806.38 384.83,790.57 388.32,791.44 391.82,798.88 395.31,797.25 398.81,795.3 402.31,780.25 405.8,775.68 409.3,791.23 412.79,792.76 416.29,785.76 419.78,784.57 423.28,791.74 426.78,810.03 430.27,837.32 433.77,821.38 437.26,824.39 440.76,828.41 444.25,834.83 447.75,834.89 451.25,851.29 454.74,838.94 458.24,835.21 461.73,824.98 465.23,826.91 468.72,828.75 472.22,837.87 475.72,831.08 479.21,831.23 482.71,832.68 486.2,821.68 489.7,815.08 493.19,819.52 496.69,741.25 500.19,736.64 503.68,733.95 507.18,732.3 510.67,731.9 514.17,734.94 517.66,734.66 521.16,746.31 524.65,741.55 528.15,732.06 531.65,758.73 535.14,758.3 538.64,783.05 542.13,783.57 545.63,776.74 549.12,776.2 552.62,770.7 556.12,757.3 559.61,772.18 563.11,774.71 566.6,778.62 570.1,774.96 573.59,767.18 577.09,748.36 580.59,749.15 584.08,754.09 587.58,748.7 591.07,753.34 594.57,763.47 598.06,768.27 601.56,779.71 605.06,768.27 608.55,767.33 612.05,769.3 615.54,754.47 619.04,755.73 622.53,745.32 626.03,738.73 629.53,740.57 633.02,730.72 636.52,710.79 640.01,749.18 643.51,757.59 647,740.02 650.5,740.8 654,744.88 657.49,753.85 660.99,757.12 664.48,740.6 667.98,741.46 671.47,750.25 674.97,742.78 678.47,743.71 681.96,723.1 685.46,737.89 688.95,725.18 692.45,729.37 695.94,753.28 699.44,762.22 702.94,759.75 706.43,781.18 709.93,770.56 713.42,768.28 716.92,783.27 720.41,795.62 723.91,780.73 727.41,788.46 730.9,780.58 734.4,765.85 737.89,762.08 741.39,784.39 744.88,791.09 748.38,798.55 751.88,790.15 755.37,786.66 758.87,799.97 762.36,823.26 765.86,832.41 769.35,815.43 772.85,814.84 776.35,809.33 779.84,800.87 783.34,813.01 786.83,806.22 790.33,806.5 793.82,799.55 797.32,802.18 800.82,812.8 804.31,811.29 807.81,803.66 811.3,794.8 814.8,798.54 818.29,822.58 821.79,824.78 825.29,839 828.78,816.52 832.28,816.23 835.77,804.45 839.27,804.97 842.76,796.31 846.26,789.31 849.76,810.55 853.25,804.99 856.75,799.22 860.24,809.13 863.74,787.36 867.23,798.47 870.73,809.88 874.22,809.18 877.72,794.72 881.22,788.28 884.71,790.13 888.21,796.38 891.7,822.59 895.2,791.3 898.69,781.52 902.19,777.03 905.69,773.99 909.18,747.2 912.68,771.3 916.17,764 919.67,760.97 923.16,756.03 926.66,755.64 930.16,758.17 933.65,755.52 937.15,758.34 940.64,767.49 944.14,773.66 947.63,789.47 951.13,797.12 954.63,818.24 958.12,811.4 961.62,805.27 965.11,821.28 968.61,812.4 972.1,814.65 975.6,835.53 979.1,838.07 982.59,820.65 986.09,823.7 989.58,822.98 993.08,823.83 996.57,803.99 1000.07,791.71 1003.57,787.96 1007.06,789.8 1010.56,774.15 1014.05,764.73 1017.55,777.61 1021.04,777.61 1024.54,779.74 1028.04,792.73 1031.53,795.98 1035.03,792.04 1038.52,796.32 1042.02,797.06 1045.51,796.11 1049.01,769.53 1052.51,776.41 1056,786.41 1059.5,785.56 1062.99,774.61 1066.49,776.52 1069.98,789.4 1073.48,770.86 1076.98,762.76 1080.47,802.44 1083.97,815.05 1087.46,804.86 1090.96,806.59 1094.45,800.07 1097.95,795.18 1101.45,805.77 1104.94,789.68 1108.44,787.39 1111.93,782.69 1115.43,787.52 1118.92,777.75 1122.42,800.43 1125.92,795.4 1129.41,780.48 1132.91,775.38 1136.4,768.25 1139.9,748.84 1143.39,770.86 1146.89,766.05 1150.39,768.46 1153.88,767.93 1157.38,757.45 1160.87,753.12 1164.37,766.3 1167.86,758.94 1171.36,766.48 1174.86,766.03 1178.35,756.98 1181.85,748.3 1185.34,733.16 1188.84,767.42 1192.33,762.57 1195.83,756.07 1199.33,766.38 1202.82,769.78 1206.32,742.06 1209.81,742.41 1213.31,741.72 1216.8,739.66 1220.3,748.86 1223.79,803.08 1227.29,795.19 1230.79,785.18 1234.28,785.18 1237.78,805.59 1241.27,816.8 1244.77,827.02 1248.26,802.72 1251.76,806.95 1255.26,798.91 1258.75,792.85 1262.25,804.41 1265.74,791.08 1269.24,776.61 1272.73,780.02 1276.23,780.61 1279.73,783.73 1283.22,779.94 1286.72,777.99 1290.21,779.49 1293.71,782.62 1297.2,774.34 1300.7,784.21 1304.2,781.78 1307.69,814.9 1311.19,783.65 1314.68,781.22 1318.18,782.55 1321.67,781.86 1325.17,788.45 1328.67,800.08 1332.16,805.83 1335.66,806.48 1339.15,809.48 1342.65,807.01 1346.14,815.42 1349.64,819.26 1353.14,818.14 1356.63,815.32 1360.13,814.58 1363.62,810.18 1367.12,784.43 1370.61,837.63 1374.11,851.29 1377.61,852.2 1381.1,853.02 1384.6,850.98 1388.09,851.76" fill="none" stroke="#3d2614" stroke-width="1.5" stroke-linejoin="round"/>
<polyline points="0.3,818.79 3.8,818.12 7.29,820.42 10.79,824.94 14.28,827.88 17.78,828.44 21.27,829.35 24.77,830.32 28.27,831.88 31.76,826.93 35.26,822.61 38.75,819.29 42.25,817.24 45.74,813.58 49.24,806.69 52.74,797.69 56.23,790.32 59.73,784.02 63.22,777.18 66.72,769.92 70.21,767.64 73.71,768.52 77.21,770.31 80.7,772.14 84.2,771.37 87.69,769.28 91.19,765.2 94.68,758.47 98.18,754.54 101.68,750.58 105.17,747.09 108.67,742.3 112.16,742.35 115.66,744.61 119.15,746.73 122.65,748.27 126.15,749.84 129.64,751.92 133.14,759.74 136.63,763.29 140.13,764.5 143.62,761.29 147.12,758.2 150.62,759.05 154.11,756.11 157.61,752.74 161.1,751.76 164.6,751.9 168.09,751.1 171.59,749.48 175.09,749.79 178.58,753.66 182.08,757.69 185.57,759.51 189.07,759.98 192.56,760.33 196.06,762.67 199.55,764.57 203.05,766.14 206.55,767.13 210.04,767.22 213.54,767.29 217.03,764.64 220.53,761.95 224.02,759.09 227.52,753.06 231.02,749.47 234.51,745.47 238.01,744 241.5,743.71 245,741.78 248.49,739.85 251.99,738.07 255.49,737 258.98,733.71 262.48,726.7 265.97,720.97 269.47,715.05 272.96,712.37 276.46,715.52 279.96,717.8 283.45,718.25 286.95,719.01 290.44,720.41 293.94,722.77 297.43,725.9 300.93,730.62 304.43,734.47 307.92,738.05 311.42,738.62 314.91,739.1 318.41,737.59 321.9,742.59 325.4,738.23 328.9,733.92 332.39,728.16 335.89,724.23 339.38,727.66 342.88,734.77 346.37,747.98 349.87,757.94 353.37,764.56 356.86,770.66 360.36,776.32 363.85,780.86 367.35,787.14 370.84,791.58 374.34,794.66 377.84,795.81 381.33,797.73 384.83,796.43 388.32,795.53 391.82,796.13 395.31,796.34 398.81,796.15 402.31,793.26 405.8,790.06 409.3,790.27 412.79,790.73 416.29,789.82 419.78,788.87 423.28,789.39 426.78,793.14 430.27,801.18 433.77,804.85 437.26,808.4 440.76,812.04 444.25,816.18 447.75,819.59 451.25,825.35 454.74,827.82 458.24,829.16 461.73,828.4 465.23,828.13 468.72,828.25 472.22,830 475.72,830.19 479.21,830.38 482.71,830.8 486.2,829.14 489.7,826.59 493.19,825.3 496.69,810.02 500.19,796.68 503.68,785.27 507.18,775.64 510.67,767.69 514.17,761.73 517.66,756.81 521.16,754.9 524.65,752.47 528.15,748.76 531.65,750.57 535.14,751.98 538.64,757.63 542.13,762.35 545.63,764.96 549.12,767.01 552.62,767.68 556.12,765.79 559.61,766.95 563.11,768.36 566.6,770.23 570.1,771.09 573.59,770.38 577.09,766.37 580.59,763.24 584.08,761.58 587.58,759.24 591.07,758.17 594.57,759.13 598.06,760.79 601.56,764.23 605.06,764.97 608.55,765.4 612.05,766.11 615.54,763.99 619.04,762.49 622.53,759.37 626.03,755.61 629.53,752.88 633.02,748.85 636.52,741.93 640.01,743.25 643.51,745.85 647,744.79 650.5,744.07 654,744.21 657.49,745.97 660.99,747.99 664.48,746.65 667.98,745.71 671.47,746.53 674.97,745.85 678.47,745.46 681.96,741.4 685.46,740.76 688.95,737.93 692.45,736.37 695.94,739.44 699.44,743.58 702.94,746.52 706.43,752.83 709.93,756.05 713.42,758.27 716.92,762.82 720.41,768.78 723.91,770.95 727.41,774.14 730.9,775.31 734.4,773.59 737.89,771.5 741.39,773.84 744.88,776.98 748.38,780.9 751.88,782.58 755.37,783.32 758.87,786.35 762.36,793.06 765.86,800.22 769.35,802.98 772.85,805.14 776.35,805.9 779.84,804.99 783.34,806.44 786.83,806.4 790.33,806.42 793.82,805.17 797.32,804.63 800.82,806.11 804.31,807.05 807.81,806.44 811.3,804.32 814.8,803.27 818.29,806.78 821.79,810.05 825.29,815.32 828.78,815.53 832.28,815.66 835.77,813.62 839.27,812.05 842.76,809.19 846.26,805.57 849.76,806.48 853.25,806.21 856.75,804.94 860.24,805.7 863.74,802.37 867.23,801.66 870.73,803.15 874.22,804.25 877.72,802.52 881.22,799.93 884.71,798.15 888.21,797.83 891.7,802.33 895.2,800.32 898.69,796.9 902.19,793.29 905.69,789.78 909.18,782.04 912.68,780.09 916.17,777.16 919.67,774.22 923.16,770.91 926.66,768.13 930.16,766.32 933.65,764.36 937.15,763.26 940.64,764.03 944.14,765.78 947.63,770.09 951.13,775 954.63,782.86 958.12,788.05 961.62,791.18 965.11,796.66 968.61,799.52 972.1,802.27 975.6,808.32 979.1,813.73 982.59,814.98 986.09,816.57 989.58,817.73 993.08,818.84 996.57,816.14 1000.07,811.7 1003.57,807.38 1007.06,804.19 1010.56,798.73 1014.05,792.55 1017.55,789.83 1021.04,787.61 1024.54,786.18 1028.04,787.37 1031.53,788.94 1035.03,789.5 1038.52,790.74 1042.02,791.89 1045.51,792.66 1049.01,788.45 1052.51,786.26 1056,786.29 1059.5,786.16 1062.99,784.06 1066.49,782.69 1069.98,783.91 1073.48,781.53 1076.98,778.12 1080.47,782.54 1083.97,788.45 1087.46,791.44 1090.96,794.19 1094.45,795.26 1097.95,795.25 1101.45,797.16 1104.94,795.8 1108.44,794.27 1111.93,792.16 1115.43,791.32 1118.92,788.85 1122.42,790.96 1125.92,791.77 1129.41,789.71 1132.91,787.11 1136.4,783.68 1139.9,777.34 1143.39,776.17 1146.89,774.33 1150.39,773.26 1153.88,772.29 1157.38,769.59 1160.87,766.6 1164.37,766.54 1167.86,765.16 1171.36,765.4 1174.86,765.52 1178.35,763.96 1181.85,761.11 1185.34,756.03 1188.84,758.1 1192.33,758.92 1195.83,758.4 1199.33,759.85 1202.82,761.65 1206.32,758.09 1209.81,755.24 1213.31,752.78 1216.8,750.39 1220.3,750.12 1223.79,759.74 1227.29,766.19 1230.79,769.64 1234.28,772.47 1237.78,778.49 1241.27,785.46 1244.77,793.01 1248.26,794.78 1251.76,796.99 1255.26,797.34 1258.75,796.52 1262.25,797.96 1265.74,796.71 1269.24,793.05 1272.73,790.68 1276.23,788.85 1279.73,787.92 1283.22,786.47 1286.72,784.93 1290.21,783.94 1293.71,783.7 1297.2,782 1300.7,782.4 1304.2,782.29 1307.69,788.22 1311.19,787.39 1314.68,786.27 1318.18,785.59 1321.67,784.91 1325.17,785.56 1328.67,788.2 1332.16,791.4 1335.66,794.15 1339.15,796.93 1342.65,798.77 1346.14,801.79 1349.64,804.97 1353.14,807.36 1356.63,808.81 1360.13,809.86 1363.62,809.92 1367.12,805.28 1370.61,811.16 1374.11,818.46 1377.61,824.59 1381.1,829.76 1384.6,833.62 1388.09,836.92" fill="none" stroke="#ff8c00" stroke-width="1.5" stroke-linejoin="round"/>
<text x="4.68" y="9.9" font-size="10.75" font-family="DejaVu Sans" font-stretch="condensed" fill="#1c1c1c" textLength="63.92" lengthAdjust="spacingAndGlyphs" xml:space="preserve">XAUUSD, H4:</text>
<text x="74.77" y="9.9" font-size="10.75" font-family="DejaVu Sans" font-stretch="condensed" fill="#1c1c1c" textLength="80.97" lengthAdjust="spacingAndGlyphs" xml:space="preserve">US Dollar vs Gold</text>
<text x="161.60" y="9.9" font-size="10.75" font-family="DejaVu Sans" font-stretch="condensed" fill="#1c1c1c" textLength="41.08" lengthAdjust="spacingAndGlyphs" xml:space="preserve">1992.95</text>
<text x="205.21" y="9.9" font-size="10.75" font-family="DejaVu Sans" font-stretch="condensed" fill="#1c1c1c" textLength="40.71" lengthAdjust="spacingAndGlyphs" xml:space="preserve">1993.03</text>
<text x="248.70" y="9.9" font-size="10.75" font-family="DejaVu Sans" font-stretch="condensed" fill="#1c1c1c" textLength="40.91" lengthAdjust="spacingAndGlyphs" xml:space="preserve">1989.68</text>
<text x="292.52" y="9.9" font-size="10.75" font-family="DejaVu Sans" font-stretch="condensed" fill="#1c1c1c" textLength="40.30" lengthAdjust="spacingAndGlyphs" xml:space="preserve">1992.21</text>
<text x="1.76" y="663.9" font-size="10.82" font-family="DejaVu Sans" font-stretch="condensed" fill="#1c1c1c" textLength="38.35" lengthAdjust="spacingAndGlyphs" xml:space="preserve">RSI(14)</text>
<text x="42.36" y="663.9" font-size="10.82" font-family="DejaVu Sans" font-stretch="condensed" fill="#1c1c1c" textLength="29.14" lengthAdjust="spacingAndGlyphs" xml:space="preserve">24.27</text>
<text x="73.46" y="663.9" font-size="10.82" font-family="DejaVu Sans" font-stretch="condensed" fill="#1c1c1c" textLength="37.45" lengthAdjust="spacingAndGlyphs" xml:space="preserve">MA(10)</text>
<text x="113.22" y="663.9" font-size="10.82" font-family="DejaVu Sans" font-stretch="condensed" fill="#1c1c1c" textLength="35.17" lengthAdjust="spacingAndGlyphs" xml:space="preserve">30.198</text>
<text x="1229.83" y="208.8" font-size="29.57" font-family="Liberation Sans, Arial, sans-serif" fill="#5c3311" textLength="113.55" lengthAdjust="spacingAndGlyphs" xml:space="preserve">4H Chart</text>
<text x="1448.87" y="255.6" font-size="22.60" font-family="DejaVu Sans" font-stretch="condensed" fill="#ff0000" textLength="81.63" lengthAdjust="spacingAndGlyphs" xml:space="preserve">2060.00</text>
<text x="1448.87" y="382.0" font-size="22.05" font-family="DejaVu Sans" font-stretch="condensed" fill="#ff0000" textLength="81.63" lengthAdjust="spacingAndGlyphs" xml:space="preserve">2015.00</text>
<text x="1448.08" y="495.1" font-size="22.47" font-family="DejaVu Sans" font-stretch="condensed" fill="#ff0000" textLength="82.43" lengthAdjust="spacingAndGlyphs" xml:space="preserve">1975.00</text>
<text x="-0.50" y="932.8" font-size="10.82" font-family="DejaVu Sans" font-stretch="condensed" fill="#1c1c1c" textLength="63.21" lengthAdjust="spacingAndGlyphs" xml:space="preserve">10 Nov 2023</text>
<text x="111.27" y="932.8" font-size="10.82" font-family="DejaVu Sans" font-stretch="condensed" fill="#1c1c1c" textLength="66.54" lengthAdjust="spacingAndGlyphs" xml:space="preserve">17 Nov 12:00</text>
<text x="223.52" y="932.8" font-size="10.82" font-family="DejaVu Sans" font-stretch="condensed" fill="#1c1c1c" textLength="66.54" lengthAdjust="spacingAndGlyphs" xml:space="preserve">24 Nov 20:00</text>
<text x="335.60" y="932.8" font-size="10.82" font-family="DejaVu Sans" font-stretch="condensed" fill="#1c1c1c" textLength="60.10" lengthAdjust="spacingAndGlyphs" xml:space="preserve">4 Dec 04:00</text>
<text x="446.87" y="932.8" font-size="10.82" font-family="DejaVu Sans" font-stretch="condensed" fill="#1c1c1c" textLength="66.38" lengthAdjust="spacingAndGlyphs" xml:space="preserve">11 Dec 12:00</text>
<text x="558.73" y="932.8" font-size="10.82" font-family="DejaVu Sans" font-stretch="condensed" fill="#1c1c1c" textLength="66.38" lengthAdjust="spacingAndGlyphs" xml:space="preserve">18 Dec 20:00</text>
<text x="670.98" y="932.8" font-size="10.82" font-family="DejaVu Sans" font-stretch="condensed" fill="#1c1c1c" textLength="66.38" lengthAdjust="spacingAndGlyphs" xml:space="preserve">27 Dec 04:00</text>
<text x="783.07" y="932.8" font-size="10.82" font-family="DejaVu Sans" font-stretch="condensed" fill="#1c1c1c" textLength="56.21" lengthAdjust="spacingAndGlyphs" xml:space="preserve">4 Jan 12:00</text>
<text x="894.33" y="932.8" font-size="10.82" font-family="DejaVu Sans" font-stretch="condensed" fill="#1c1c1c" textLength="62.49" lengthAdjust="spacingAndGlyphs" xml:space="preserve">11 Jan 20:00</text>
<text x="1006.20" y="932.8" font-size="10.82" font-family="DejaVu Sans" font-stretch="condensed" fill="#1c1c1c" textLength="62.49" lengthAdjust="spacingAndGlyphs" xml:space="preserve">19 Jan 04:00</text>
<text x="1118.45" y="932.8" font-size="10.82" font-family="DejaVu Sans" font-stretch="condensed" fill="#1c1c1c" textLength="62.49" lengthAdjust="spacingAndGlyphs" xml:space="preserve">26 Jan 12:00</text>
<text x="1230.31" y="932.8" font-size="10.82" font-family="DejaVu Sans" font-stretch="condensed" fill="#1c1c1c" textLength="58.42" lengthAdjust="spacingAndGlyphs" xml:space="preserve">2 Feb 20:00</text>
<text x="1341.79" y="932.8" font-size="10.82" font-family="DejaVu Sans" font-stretch="condensed" fill="#1c1c1c" textLength="64.70" lengthAdjust="spacingAndGlyphs" xml:space="preserve">12 Feb 04:00</text>
</svg>
</body></html>
